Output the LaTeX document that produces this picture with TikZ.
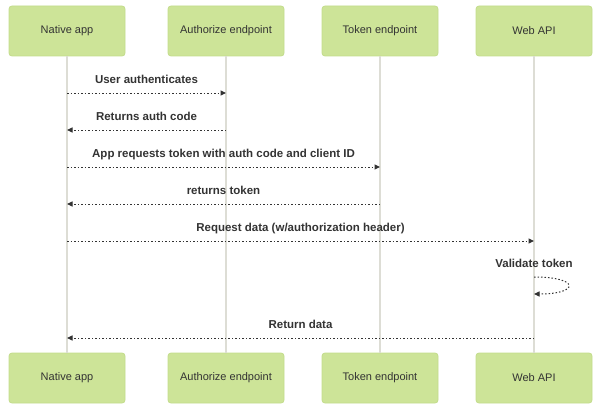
\documentclass[tikz,border=0pt]{standalone}
\usepackage{fontspec}
\setmainfont{Liberation Sans}
\usetikzlibrary{arrows.meta}
\definecolor{actorfill}{HTML}{CDE498}
\definecolor{actorline}{HTML}{C3DC8C}
\definecolor{lifeline}{HTML}{DDDDD5}
\definecolor{msgcol}{HTML}{333333}

\begin{document}
\begin{tikzpicture}[x=1pt, y=-1pt,
  actor/.style={draw=actorline, fill=actorfill, rounded corners=3pt, line width=0.8pt,
    minimum width=116pt, minimum height=50pt, font=\fontsize{11}{13}\selectfont, text=msgcol},
  msg/.style={draw=msgcol, line width=1pt, dash pattern=on 1.5pt off 2pt,
    -{Triangle[length=5.5pt,width=5pt]}},
  lbl/.style={font=\bfseries\fontsize{11.5}{13}\selectfont, text=msgcol, inner sep=0pt,
    anchor=base, yshift=10pt}]
\useasboundingbox (0,0) rectangle (602,412);

% Actors
\foreach \n/\x/\t in {na/67/Native app, ae/226/Authorize endpoint, te/380/Token endpoint, api/534/Web API}{
  \node[actor] (\n top) at (\x,31) {\t};
  \node[actor] (\n bot) at (\x,378) {\t};
  \draw[lifeline, line width=1.5pt] (\n top) -- (\n bot);
}
\foreach \n in {na,ae,te,api}
  \foreach \y [count=\i] in {93,130,167,204,241,277,294,338}
    \coordinate (\n\i) at (\n top |- 0,\y);

% Messages
\draw[msg] (na1) -- (ae1) node[lbl, midway] {User authenticates};
\draw[msg] (ae2) -- (na2) node[lbl, midway] {Returns auth code};
\draw[msg] (na3) -- (te3) node[lbl, midway] {App requests token with auth code and client ID};
\draw[msg] (te4) -- (na4) node[lbl, midway] {returns token};
\draw[msg] (na5) -- (api5) node[lbl, midway] {Request data (w/authorization header)};
\node[lbl] (valid) at (api6) {Validate token};
\draw[msg] (api6) .. controls +(46,0) and +(46,0) .. (api7);
\draw[msg] (api8) -- (na8) node[lbl, midway] {Return data};
\end{tikzpicture}
\end{document}
